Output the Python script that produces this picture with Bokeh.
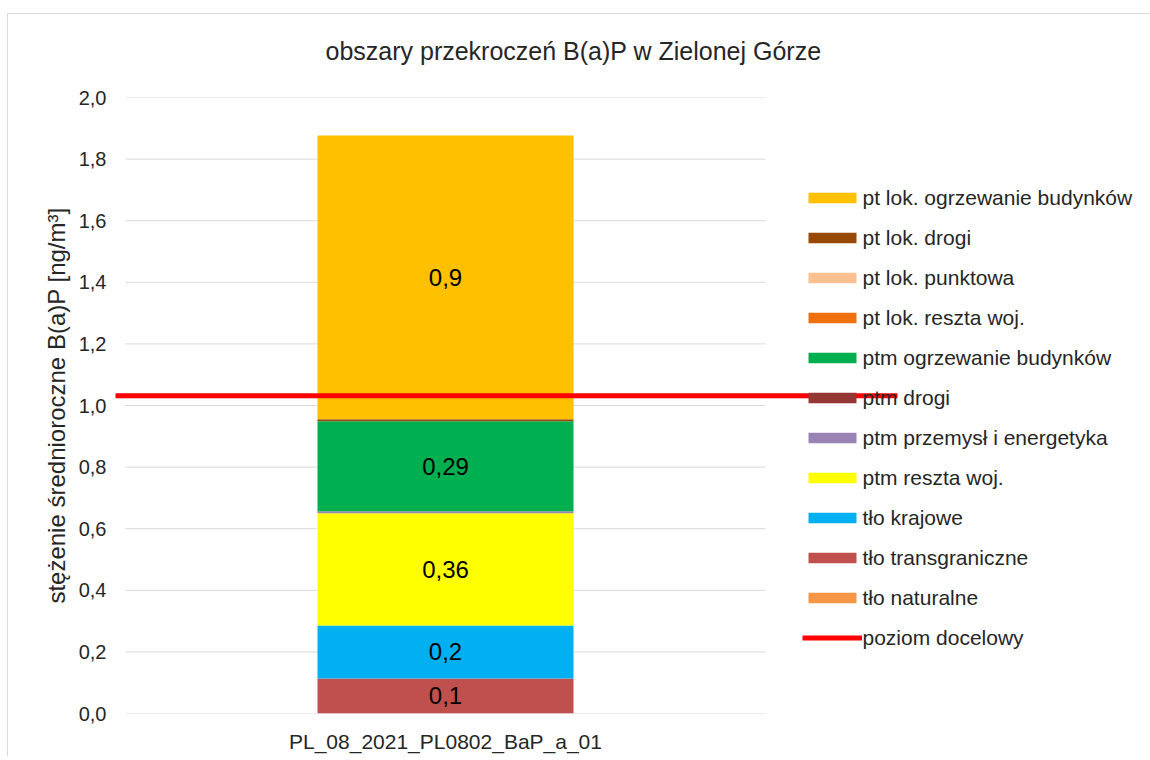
from bokeh.plotting import figure
from bokeh.models import (Range1d, FixedTicker, CustomJSTickFormatter,
                          ColumnDataSource, Legend, LegendItem)
from bokeh.core.properties import value
from bokeh.embed import file_html
from bokeh.resources import INLINE

# ---------------- data ----------------
category = ["PL_08_2021_PL0802_BaP_a_01"]

# stacking order: bottom -> top
series_names = ["tło naturalne", "tło transgraniczne", "tło krajowe", "ptm reszta woj.",
                "ptm przemysł i energetyka", "ptm drogi", "ptm ogrzewanie budynków",
                "pt lok. reszta woj.", "pt lok. punktowa", "pt lok. drogi",
                "pt lok. ogrzewanie budynków"]
series_values = [0.0, 0.114, 0.172, 0.364, 0.0065, 0.0, 0.292, 0.0, 0.0, 0.0065, 0.922]
series_colors = ["#F79646", "#C0504D", "#00B0F0", "#FFFF00", "#9983B5", "#953735",
                 "#00B050", "#F07010", "#FAC090", "#984807", "#FFC000"]
segment_labels = ["", "0,1", "0,2", "0,36", "", "", "0,29", "", "", "", "0,9"]

target_name = "poziom docelowy"
target_level = 1.032
target_color = "#FF0000"

y_ticks = [0.0, 0.2, 0.4, 0.6, 0.8, 1.0, 1.2, 1.4, 1.6, 1.8, 2.0]

title_text = "obszary przekroczeń B(a)P w Zielonej Górze"
y_axis_title = "stężenie średnioroczne B(a)P [ng/m³]"

FONT = "Liberation Sans"
TXT = "#262626"

# ---------------- layout (pixels) ----------------
W, H = 1150, 756
BORDER_LEFT, BORDER_TOP = 115, 97
FRAME_H = 616
BORDER_BOTTOM = H - BORDER_TOP - FRAME_H
FRAME_W = W - BORDER_LEFT
PX_PER_CAT = 640.0          # width of the category plot area in pixels
AREA_OFFSET = 10.0          # plot area starts 10 px right of the frame edge
LINE_OVERHANG = 132.0       # target line runs past the plot area on the right

n_cat = len(category)
x_start = -AREA_OFFSET / PX_PER_CAT
x_end = x_start + FRAME_W / PX_PER_CAT

p = figure(x_range=Range1d(x_start, x_end),
           y_range=Range1d(0, y_ticks[-1]),
           width=W, height=H,
           min_border_left=BORDER_LEFT, min_border_right=0,
           min_border_top=BORDER_TOP, min_border_bottom=BORDER_BOTTOM,
           output_backend="svg", toolbar_location=None)
# light chart-area border (top and left edges) drawn behind the transparent canvas
p.styles = {"background": ("linear-gradient(#d9d9d9, #d9d9d9) 7px 13px / 100% 1px no-repeat, "
                           "linear-gradient(#d9d9d9, #d9d9d9) 7px 13px / 1px 100% no-repeat, "
                           "#ffffff")}
p.outline_line_color = None
p.background_fill_color = "white"
p.border_fill_alpha = 0

cat_x = [i + 0.5 for i in range(n_cat)]
keys = ["s%d" % i for i in range(len(series_names))]
data = {"x": cat_x}
for k, v in zip(keys, series_values):
    data[k] = [v]
src = ColumnDataSource(data)

# horizontal gridlines spanning the category area only
p.segment(x0=[0] * len(y_ticks), x1=[n_cat] * len(y_ticks), y0=y_ticks, y1=y_ticks,
          line_color="#d9d9d9", line_width=1)

renderers = p.vbar_stack(keys, x="x", width=0.4, source=src,
                         fill_color=series_colors, line_color=None)

# segment value labels
lab_x, lab_y, lab_t = [], [], []
bottom = 0.0
for v, t in zip(series_values, segment_labels):
    if t:
        lab_x.append(cat_x[0])
        lab_y.append(bottom + v / 2)
        lab_t.append(t)
    bottom += v
p.text(x=lab_x, y=lab_y, text=lab_t, text_align="center", text_baseline="middle",
       text_font=value(FONT), text_font_size="24px", text_color="#000000")

# target level line (runs from frame edge past the plot area, over the legend)
target_r = p.segment(x0=[x_start], x1=[n_cat + LINE_OVERHANG / PX_PER_CAT],
                     y0=[target_level], y1=[target_level],
                     line_color=target_color, line_width=5, level="overlay")

# axes
p.yaxis.ticker = FixedTicker(ticks=y_ticks)
p.yaxis.formatter = CustomJSTickFormatter(code="return tick.toFixed(1).replace('.', ',');")
p.yaxis.axis_line_color = None
p.yaxis.major_tick_line_color = None
p.yaxis.minor_tick_line_color = None
p.yaxis.major_tick_out = 0
p.yaxis.major_label_standoff = 9
p.yaxis.major_label_text_font = FONT
p.yaxis.major_label_text_font_size = "20px"
p.yaxis.major_label_text_color = TXT
p.yaxis.axis_label = y_axis_title
p.yaxis.axis_label_text_font = FONT
p.yaxis.axis_label_text_font_size = "24px"
p.yaxis.axis_label_text_font_style = "normal"
p.yaxis.axis_label_text_color = TXT
p.yaxis.axis_label_standoff = 6

p.xaxis.ticker = FixedTicker(ticks=cat_x)
p.xaxis.major_label_overrides = {x: c for x, c in zip(cat_x, category)}
p.xaxis.axis_line_color = None
p.xaxis.major_tick_line_color = None
p.xaxis.minor_tick_line_color = None
p.xaxis.major_tick_out = 0
p.xaxis.major_label_standoff = 16
p.xaxis.major_label_text_font = FONT
p.xaxis.major_label_text_font_size = "21px"
p.xaxis.major_label_text_color = TXT

p.xgrid.grid_line_color = None
p.ygrid.grid_line_color = None

# title
p.title.text = title_text
p.title.align = "left"
p.title.offset = 210
p.title.standoff = 65
p.title.text_font = FONT
p.title.text_font_size = "25px"
p.title.text_font_style = "normal"
p.title.text_color = TXT

# legend (top -> bottom = reverse stacking order, then target line)
items = [LegendItem(label=n, renderers=[r])
         for n, r in zip(reversed(series_names), reversed(renderers))]
items.append(LegendItem(label=target_name, renderers=[target_r]))
legend = Legend(items=items, location=(686.5, 63.5), orientation="vertical",
                glyph_width=60, glyph_height=13, label_height=20, spacing=16,
                padding=0, margin=0, border_line_color=None, background_fill_alpha=0,
                label_text_font=FONT, label_text_font_size="21px",
                label_text_color=TXT, label_standoff=1)
p.add_layout(legend)

open("out.html", "w").write(file_html(p, INLINE))
